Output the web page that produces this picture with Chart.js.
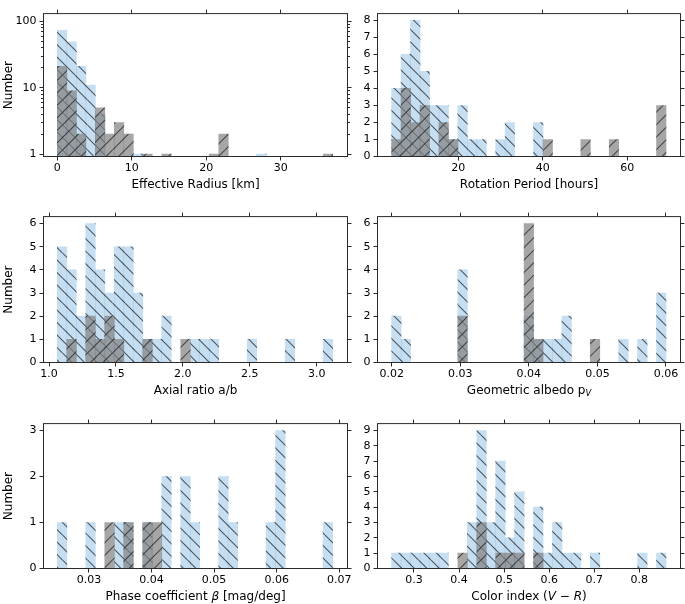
<!DOCTYPE html>
<html><head><meta charset="utf-8">
<script src="https://cdn.jsdelivr.net/npm/chart.js@4.4.1/dist/chart.umd.min.js"></script>
<style>
html,body{margin:0;padding:0;background:#fff;}
#wrap{position:relative;width:685px;height:604px;overflow:hidden;background:#fff;}
canvas{position:absolute;}
</style></head><body><div id="wrap"></div>
<script>
// ===================== DATA =====================
const binCount = 29;

// Effective radius [km]
const radiusRange = [0, 37];
const radiusAll = [73,49,21,11,4,0,0,0,1,0,0,0,0,0,0,0,0,0,0,0,0,1,0,0,0,0,0,0,0];
const radiusSub = [21,9,2,0,5,2,3,2,0,1,0,1,0,0,0,0,1,2,0,0,0,0,0,0,0,0,0,0,1];
const radiusTicks = [0,10,20,30];
const radiusTickLabels = ['0','10','20','30'];
const radiusCountTicks = [1,2,3,4,5,6,7,8,9,10,20,30,40,50,60,70,80,90,100];
const radiusCountMajor = [1,10,100];
const radiusCountLabels = ['1','10','100'];

// Rotation period [hours]
const periodRange = [4.22, 69.15];
const periodAll = [4,6,8,5,3,3,1,3,1,1,0,1,2,0,0,2,0,0,0,0,0,0,0,0,0,0,0,0,0];
const periodSub = [1,4,2,3,0,2,1,0,0,0,0,0,0,0,0,0,1,0,0,0,1,0,0,1,0,0,0,0,3];
const periodTicks = [20,40,60];
const periodTickLabels = ['20','40','60'];
const periodCountTicks = [0,1,2,3,4,5,6,7,8];

// Axial ratio a/b
const axialRange = [1.062, 3.12];
const axialAll = [5,4,2,6,4,3,5,5,3,1,1,2,0,0,1,1,1,0,0,0,1,0,0,0,1,0,0,0,1];
const axialSub = [0,1,0,2,1,2,1,0,0,1,0,0,0,1,0,0,0,0,0,0,0,0,0,0,0,0,0,0,0];
const axialTicks = [1.0,1.5,2.0,2.5,3.0];
const axialTickLabels = ['1.0','1.5','2.0','2.5','3.0'];
const axialCountTicks = [0,1,2,3,4,5,6];

// Geometric albedo pV
const albedoRange = [0.02, 0.06];
const albedoAll = [2,1,0,0,0,0,0,4,0,0,0,0,0,0,2,1,1,1,2,0,0,0,0,0,1,0,1,0,3];
const albedoSub = [0,0,0,0,0,0,0,2,0,0,0,0,0,0,6,1,0,0,0,0,0,1,0,0,0,0,0,0,0];
const albedoTicks = [0.02,0.03,0.04,0.05,0.06];
const albedoTickLabels = ['0.02','0.03','0.04','0.05','0.06'];
const albedoCountTicks = [0,1,2,3,4,5,6];

// Phase coefficient beta [mag/deg]
const phaseRange = [0.02494, 0.06894];
const phaseAll = [1,0,0,1,0,0,1,1,0,1,0,2,0,2,1,0,0,2,1,0,0,0,1,3,0,0,0,0,1];
const phaseSub = [0,0,0,0,0,1,0,1,0,1,1,0,0,0,0,0,0,0,0,0,0,0,0,0,0,0,0,0,0];
const phaseTicks = [0.03,0.04,0.05,0.06,0.07];
const phaseTickLabels = ['0.03','0.04','0.05','0.06','0.07'];
const phaseCountTicks = [0,1,2,3];

// Color index (V-R)
const colorRange = [0.2504, 0.8592];
const colorAll = [1,1,1,1,1,1,0,0,3,9,3,7,2,5,0,4,1,3,1,1,0,1,0,0,0,0,1,0,1];
const colorSub = [0,0,0,0,0,0,0,1,0,3,0,1,1,1,0,1,0,0,0,0,0,0,0,0,0,0,0,0,0];
const colorTicks = [0.3,0.4,0.5,0.6,0.7,0.8];
const colorTickLabels = ['0.3','0.4','0.5','0.6','0.7','0.8'];
const colorCountTicks = [0,1,2,3,4,5,6,7,8,9];

// ===================== STYLE / LAYOUT =====================
const FONT = '"DejaVu Sans", "Liberation Sans", sans-serif';
const BLUE = 'rgba(140,190,230,0.5)';
const GREY = 'rgba(128,128,128,0.7)';
const HATCH = 'rgba(30,30,30,0.72)';

function hatch(fill, dir) {
  const s = 25;
  const c = document.createElement('canvas');
  c.width = s; c.height = s;
  const g = c.getContext('2d');
  g.fillStyle = fill; g.fillRect(0, 0, s, s);
  g.strokeStyle = HATCH; g.lineWidth = 1.05;
  g.beginPath();
  for (let o = -s; o <= s; o += s / 2) {
    if (dir === 'back') { g.moveTo(o, 0); g.lineTo(o + s, s); }
    else { g.moveTo(o, s); g.lineTo(o + s, 0); }
  }
  g.stroke();
  return g.createPattern(c, 'repeat');
}

const COLS = [{cx: 0, cw: 358, L: 43.5, R: 347.5}, {cx: 356, cw: 329, L: 377.5, R: 680.5}];
const ROWS = [{cy: 0, ch: 203, T: 4.5, B: 156.5}, {cy: 203, ch: 207, T: 209.5, B: 362.5}, {cy: 410, ch: 194, T: 415.5, B: 568.5}];

function drawRuns(ctx, runs, cx, y, size) {
  const parts = runs.map(r => {
    const sz = r.sub ? size * 0.7 : size;
    const f = (r.it ? 'italic ' : '') + sz + 'px ' + FONT;
    ctx.font = f;
    return {r, f, w: ctx.measureText(r.t).width};
  });
  const total = parts.reduce((a, p) => a + p.w, 0);
  let x = cx - total / 2;
  ctx.textAlign = 'left';
  ctx.textBaseline = 'alphabetic';
  parts.forEach(p => {
    ctx.font = p.f;
    ctx.fillText(p.r.t, x, y + (p.r.sub ? size * 0.22 : 0));
    x += p.w;
  });
}

const framePlugin = {
  id: 'frame',
  afterDatasetsDraw(chart) {
    const {ctx, chartArea: a} = chart;
    const xs = chart.scales.x, ys = chart.scales.y;
    const spec = chart.canvas._spec;
    ctx.save();
    ctx.strokeStyle = '#2a2a2a';
    ctx.lineWidth = 1;
    ctx.strokeRect(a.left, a.top, a.right - a.left, a.bottom - a.top);
    ctx.beginPath();
    xs.ticks.forEach(t => {
      let p = xs.getPixelForValue(t.value);
      if (p < a.left - 0.6 || p > a.right + 0.6) return;
      p = Math.floor(p) + 0.5;
      ctx.moveTo(p, a.bottom); ctx.lineTo(p, a.bottom + 4);
      ctx.moveTo(p, a.top); ctx.lineTo(p, a.top - 4);
    });
    ys.ticks.forEach(t => {
      let p = ys.getPixelForValue(t.value);
      if (p < a.top - 0.6 || p > a.bottom + 0.6) return;
      p = Math.floor(p) + 0.5;
      const len = spec.isMajorY(t.value) ? 4 : 2.5;
      ctx.moveTo(a.left, p); ctx.lineTo(a.left - len, p);
      ctx.moveTo(a.right, p); ctx.lineTo(a.right + len, p);
    });
    ctx.stroke();
    ctx.fillStyle = '#000';
    drawRuns(ctx, spec.xTitle, (a.left + a.right) / 2, a.bottom + 31, 12);
    if (spec.yTitle) {
      ctx.save();
      ctx.translate(a.left - 32, (a.top + a.bottom) / 2);
      ctx.rotate(-Math.PI / 2);
      drawRuns(ctx, [{t: spec.yTitle}], 0, 0, 12);
      ctx.restore();
    }
    ctx.restore();
  }
};

const wrap = document.getElementById('wrap');

function build(p) {
  const col = COLS[p.col], row = ROWS[p.row];
  const cv = document.createElement('canvas');
  cv.width = col.cw; cv.height = row.ch;
  cv.style.left = col.cx + 'px'; cv.style.top = row.cy + 'px';
  cv.style.width = col.cw + 'px'; cv.style.height = row.ch + 'px';
  wrap.appendChild(cv);
  const L = col.L - col.cx, R = col.R - col.cx, T = row.T - row.cy, B = row.B - row.cy;
  const w = (p.range[1] - p.range[0]) / binCount;
  const centers = p.all.map((_, i) => p.range[0] + w * (i + 0.5));
  const isMajorY = p.log ? (v => p.yMajor.indexOf(v) !== -1) : (() => true);
  cv._spec = {xTitle: p.xTitle, yTitle: p.col === 0 ? 'Number' : null, isMajorY};
  new Chart(cv, {
    type: 'bar',
    data: {
      datasets: [
        {label: 'all', data: centers.map((x, i) => ({x, y: p.all[i]})),
         backgroundColor: hatch(BLUE, 'back'), borderWidth: 0, order: 2,
         grouped: false, barPercentage: 1, categoryPercentage: 1},
        {label: 'subset', data: centers.map((x, i) => ({x, y: p.sub[i]})),
         backgroundColor: hatch(GREY, 'fwd'), borderWidth: 0, order: 1,
         grouped: false, barPercentage: 1, categoryPercentage: 1}
      ]
    },
    options: {
      responsive: false, animation: false, devicePixelRatio: 1,
      layout: {autoPadding: false, padding: {left: 0, top: T, right: col.cw - R, bottom: 0}},
      plugins: {legend: {display: false}, tooltip: {enabled: false}},
      scales: {
        x: {
          type: 'linear', position: 'bottom', min: p.xMin, max: p.xMax, offset: false, bounds: 'data',
          grid: {display: false, drawTicks: false}, border: {display: false},
          ticks: {padding: 5, autoSkip: false, maxRotation: 0, minRotation: 0, color: '#000',
                  font: {family: FONT, size: 11}, callback: (v, i) => p.xLabels[i]},
          afterBuildTicks: s => { s.ticks = p.xTicks.map(v => ({value: v})); },
          afterFit: s => { s.height = row.ch - B; }
        },
        y: {
          type: p.log ? 'logarithmic' : 'linear', position: 'left', min: p.yMin, max: p.yMax, bounds: 'data',
          grid: {display: false, drawTicks: false}, border: {display: false},
          ticks: {padding: 7, autoSkip: false, color: '#000', font: {family: FONT, size: 11},
                  callback: p.log ? (v => { const k = p.yMajor.indexOf(v); return k === -1 ? '' : p.yLabels[k]; })
                                  : (v => String(v))},
          afterBuildTicks: s => { s.ticks = p.yTicks.map(v => ({value: v})); },
          afterFit: s => { s.width = L; }
        }
      }
    },
    plugins: [framePlugin]
  });
}

build({col: 0, row: 0, range: radiusRange, all: radiusAll, sub: radiusSub,
       xMin: -1.858, xMax: 38.98, xTicks: radiusTicks, xLabels: radiusTickLabels,
       log: true, yMin: 0.922, yMax: 130.5, yTicks: radiusCountTicks, yMajor: radiusCountMajor, yLabels: radiusCountLabels,
       xTitle: [{t: 'Effective Radius [km]'}]});
build({col: 1, row: 0, range: periodRange, all: periodAll, sub: periodSub,
       xMin: 0.87, xMax: 72.58, xTicks: periodTicks, xLabels: periodTickLabels,
       yMin: 0, yMax: 8.4, yTicks: periodCountTicks,
       xTitle: [{t: 'Rotation Period [hours]'}]});
build({col: 0, row: 1, range: axialRange, all: axialAll, sub: axialSub,
       xMin: 0.9589, xMax: 3.2305, xTicks: axialTicks, xLabels: axialTickLabels,
       yMin: 0, yMax: 6.3, yTicks: axialCountTicks,
       xTitle: [{t: 'Axial ratio a/b'}]});
build({col: 1, row: 1, range: albedoRange, all: albedoAll, sub: albedoSub,
       xMin: 0.017934, xMax: 0.062116, xTicks: albedoTicks, xLabels: albedoTickLabels,
       yMin: 0, yMax: 6.3, yTicks: albedoCountTicks,
       xTitle: [{t: 'Geometric albedo p'}, {t: 'V', sub: true, it: true}]});
build({col: 0, row: 2, range: phaseRange, all: phaseAll, sub: phaseSub,
       xMin: 0.022727, xMax: 0.071323, xTicks: phaseTicks, xLabels: phaseTickLabels,
       yMin: 0, yMax: 3.15, yTicks: phaseCountTicks,
       xTitle: [{t: 'Phase coefficient '}, {t: 'β', it: true}, {t: ' [mag/deg]'}]});
build({col: 1, row: 2, range: colorRange, all: colorAll, sub: colorSub,
       xMin: 0.21901, xMax: 0.89134, xTicks: colorTicks, xLabels: colorTickLabels,
       yMin: 0, yMax: 9.45, yTicks: colorCountTicks,
       xTitle: [{t: 'Color index ('}, {t: 'V', it: true}, {t: ' − '}, {t: 'R', it: true}, {t: ')'}]});
</script>
</body></html>
